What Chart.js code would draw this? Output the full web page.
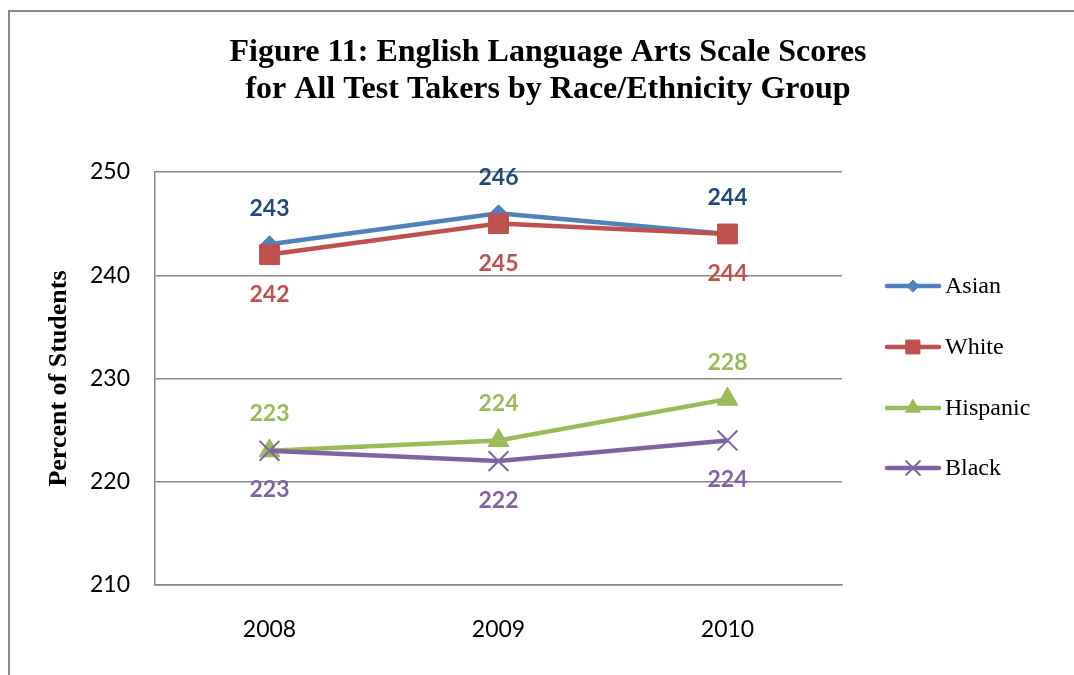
<!DOCTYPE html>
<html>
<head>
<meta charset="utf-8">
<script src="https://cdn.jsdelivr.net/npm/chart.js@4.4.1/dist/chart.umd.min.js"></script>
<style>
  html, body { margin: 0; padding: 0; background: #fff; overflow: hidden; }
  #frame { position: absolute; left: 8px; top: 10px; width: 2000px; height: 2000px;
           border-left: 2px solid #888; border-top: 2px solid #888; }
  #wrap { position: absolute; left: 0; top: 0; width: 1074px; height: 675px; }
</style>
</head>
<body>
<div id="frame"></div>
<div id="wrap"><canvas id="myChart" width="1074" height="675"></canvas></div>
<script>
// DATA
const years = ['2008', '2009', '2010'];
const groups = ['Asian', 'White', 'Hispanic', 'Black'];
const asian = [243, 246, 244];
const white = [242, 245, 244];
const hispanic = [223, 224, 228];
const black = [223, 222, 224];
const yTicks = [210, 220, 230, 240, 250];

const titleLines = [
  'Figure 11: English Language Arts Scale Scores',
  'for All Test Takers by Race/Ethnicity Group'
];

// styles per series
const styles = [
  { color: '#4F81BD', label: '#1F497D', point: 'rectRot', r: 8.5, off: -36 },
  { color: '#C0504D', label: '#C0504D', point: 'rect', r: 14, off: 40 },
  { color: '#9BBB59', label: '#9BBB59', point: 'triangle', r: 12, off: -37 },
  { color: '#8064A2', label: '#8064A2', point: 'crossRot', r: 14, off: 39 }
];
const seriesValues = [asian, white, hispanic, black];

const datasets = groups.map((name, i) => ({
  label: name,
  data: seriesValues[i],
  borderColor: styles[i].color,
  backgroundColor: styles[i].color,
  borderWidth: 4.5,
  pointStyle: styles[i].point,
  pointRadius: styles[i].r,
  pointHoverRadius: styles[i].r,
  pointBorderWidth: styles[i].point === 'crossRot' ? 2 : 1,
  pointBackgroundColor: styles[i].color,
  pointBorderColor: styles[i].color,
  tension: 0,
  order: groups.length - i,
  labelColor: styles[i].label,
  labelOffset: styles[i].off
}));

// title, value labels, legend
const extras = {
  id: 'extras',
  afterDatasetsDraw(chart) {
    const ctx = chart.ctx;
    ctx.save();
    ctx.font = 'bold 23px Lato';
    ctx.textAlign = 'center';
    ctx.textBaseline = 'middle';
    chart.data.datasets.forEach((ds, i) => {
      const meta = chart.getDatasetMeta(i);
      ctx.fillStyle = ds.labelColor;
      meta.data.forEach((pt, j) => {
        ctx.fillText(String(ds.data[j]), pt.x, pt.y + ds.labelOffset);
      });
    });
    ctx.restore();
  },
  afterDraw(chart) {
    const ctx = chart.ctx;
    ctx.save();
    // title
    ctx.fillStyle = '#000';
    ctx.font = 'bold 32px "Liberation Serif"';
    ctx.textAlign = 'center';
    ctx.textBaseline = 'middle';
    ctx.fillText(titleLines[0], 548, 53);
    ctx.fillText(titleLines[1], 548, 90);

    // legend
    const rowY = [286, 347, 408, 468];
    chart.data.datasets.forEach((ds, i) => {
      const y = rowY[i];
      ctx.strokeStyle = ds.borderColor;
      ctx.lineWidth = 4.5;
      ctx.lineCap = 'round';
      ctx.beginPath();
      ctx.moveTo(887, y);
      ctx.lineTo(939, y);
      ctx.stroke();
      ctx.fillStyle = ds.pointBackgroundColor;
      ctx.strokeStyle = ds.pointBorderColor;
      ctx.lineWidth = ds.pointBorderWidth;
      Chart.helpers.drawPoint(ctx, {
        pointStyle: ds.pointStyle,
        radius: ds.pointRadius * 0.7,
        rotation: 0,
        borderWidth: ds.pointBorderWidth
      }, 913, y);
      ctx.fillStyle = '#000';
      ctx.font = '24px "Liberation Serif"';
      ctx.textAlign = 'left';
      ctx.textBaseline = 'middle';
      ctx.fillText(ds.label, 945, y + 1);
    });
    ctx.restore();
  }
};

const config = {
  type: 'line',
  data: { labels: years, datasets },
  options: {
    responsive: false,
    animation: false,
    layout: { padding: { left: 8, top: 172, right: 232, bottom: 0 } },
    plugins: {
      legend: { display: false },
      title: { display: false },
      tooltip: { enabled: false }
    },
    scales: {
      x: {
        offset: true,
        grid: { display: false },
        border: { display: true, color: '#888', width: 1.5 },
        ticks: { color: '#000', font: { family: 'Lato', size: 23 }, padding: 23 },
        afterFit: s => { s.height = 90; }
      },
      y: {
        min: 210,
        max: 250,
        afterBuildTicks: s => { s.ticks = yTicks.map(v => ({ value: v })); },
        grid: { color: '#888', lineWidth: 1.5, drawTicks: false },
        border: { display: true, color: '#888', width: 1.5 },
        ticks: { color: '#000', font: { family: 'Lato', size: 23 }, padding: 25 },
        title: {
          display: true,
          text: 'Percent of Students',
          color: '#000',
          font: { family: 'Liberation Serif', size: 26, weight: 'bold' },
          padding: { top: 36, bottom: 0 }
        },
        afterFit: s => { s.width = 147; }
      }
    }
  },
  plugins: [extras]
};

var chart = document.querySelector('#myChart');
var myChart = new Chart(chart, config);
</script>
</body>
</html>
